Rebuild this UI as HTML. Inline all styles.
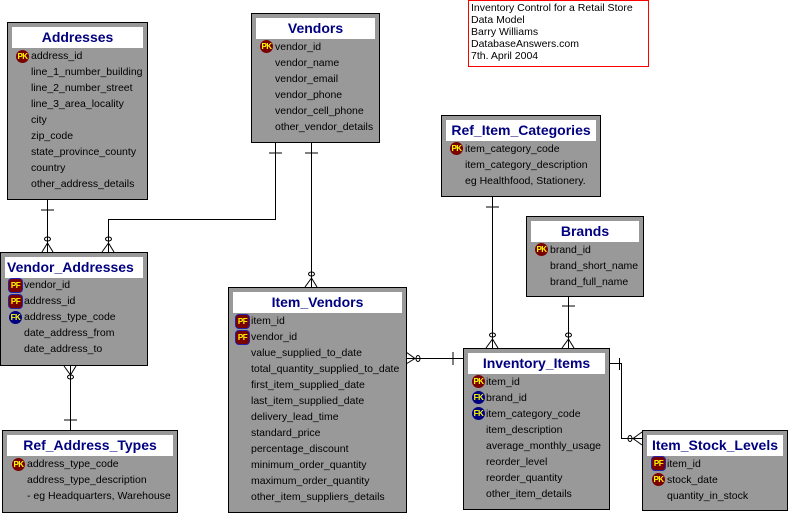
<!DOCTYPE html>
<html><head><meta charset="utf-8"><style>
body{margin:0;width:788px;height:514px;background:#fff;position:relative;overflow:hidden;font-family:"Liberation Sans",sans-serif}
.b{position:absolute;background:#999;border:1px solid #000;box-sizing:border-box}
.t{position:absolute;left:4px;right:4px;top:4px;height:21px;background:#fff;color:#000080;font-weight:bold;font-size:14px;line-height:21px;text-align:center;white-space:nowrap}
.r{position:absolute;font-size:10.5px;color:#000;white-space:nowrap;line-height:16px}
.i{position:absolute;width:13px;height:13px;border-radius:50%;background:#7a0000;color:#ff0;font-size:8px;font-weight:bold;line-height:13px;text-align:center;letter-spacing:-0.5px}
.fk{background:#000080}
.pf{border-radius:3px;box-shadow:0 0 0 1px #22a}
svg{position:absolute;left:0;top:0}
.note{position:absolute;left:468px;top:0;width:181px;height:67px;border:1px solid #f00;box-sizing:border-box;font-size:10.5px;line-height:12px;padding:1px 0 0 2px}
</style></head><body>
<svg width="788" height="514" stroke="#000" fill="none" stroke-width="1">
<path d="M47.5 199V252M41 210H54M42 252L47.5 243L53 252"/><ellipse cx="47.5" cy="239" rx="3" ry="2"/>
<path d="M275.5 142V219.5H108.5V252M269 153H282M102 252L108.5 243L114 252"/><ellipse cx="108.5" cy="239" rx="3" ry="2"/>
<path d="M311.5 142V287M305 153H318M305 287L311.5 278L317 287"/><ellipse cx="311.5" cy="274" rx="3" ry="2"/>
<path d="M70.5 365V430M64 420H77M64 366L70.5 375L76 366"/><ellipse cx="70.5" cy="377" rx="3" ry="2"/>
<path d="M406 358.5H463M406 352L415 358.5L406 364M453 352V365"/><ellipse cx="418" cy="358.5" rx="2" ry="3"/>
<path d="M492.5 196V348M486 207H499M486 348L492.5 339L498 348"/><ellipse cx="492.5" cy="335" rx="3" ry="2"/>
<path d="M568.5 296V348M562 306H575M562 348L568.5 339L574 348"/><ellipse cx="568.5" cy="335" rx="3" ry="2"/>
<path d="M609 363.5H621.5V438.5H642M619.5 358V370M642 432L633 438.5L642 445"/><ellipse cx="630" cy="438.5" rx="2" ry="3"/>
</svg>

<div class="note">Inventory Control for a Retail Store<br>Data Model<br>Barry Williams<br>DatabaseAnswers.com<br>7th. April 2004</div>

<div class="b" style="left:7px;top:22px;width:141px;height:178px"><div class="t">Addresses</div>
<div class="i" style="left:8px;top:27px">PK</div>
<div class="r" style="left:23px;top:25px">address_id<br>line_1_number_building<br>line_2_number_street<br>line_3_area_locality<br>city<br>zip_code<br>state_province_county<br>country<br>other_address_details</div></div>

<div class="b" style="left:251px;top:13px;width:129px;height:130px"><div class="t">Vendors</div>
<div class="i" style="left:8px;top:26px">PK</div>
<div class="r" style="left:23px;top:25px">vendor_id<br>vendor_name<br>vendor_email<br>vendor_phone<br>vendor_cell_phone<br>other_vendor_details</div></div>

<div class="b" style="left:0px;top:252px;width:148px;height:114px"><div class="t" style="text-align:left;padding-left:2px">Vendor_Addresses</div>
<div class="i pf" style="left:8px;top:26px">PF</div>
<div class="i pf" style="left:8px;top:42px">PF</div>
<div class="i fk" style="left:8px;top:58px">FK</div>
<div class="r" style="left:23px;top:24px">vendor_id<br>address_id<br>address_type_code<br>date_address_from<br>date_address_to</div></div>

<div class="b" style="left:2px;top:430px;width:176px;height:83px"><div class="t">Ref_Address_Types</div>
<div class="i" style="left:9px;top:27px">PK</div>
<div class="r" style="left:24px;top:25px">address_type_code<br>address_type_description<br>- eg Headquarters, Warehouse</div></div>

<div class="b" style="left:228px;top:287px;width:179px;height:226px"><div class="t">Item_Vendors</div>
<div class="i pf" style="left:7px;top:27px">PF</div>
<div class="i pf" style="left:7px;top:43px">PF</div>
<div class="r" style="left:22px;top:25px">item_id<br>vendor_id<br>value_supplied_to_date<br>total_quantity_supplied_to_date<br>first_item_supplied_date<br>last_item_supplied_date<br>delivery_lead_time<br>standard_price<br>percentage_discount<br>minimum_order_quantity<br>maximum_order_quantity<br>other_item_suppliers_details</div></div>

<div class="b" style="left:441px;top:115px;width:160px;height:82px"><div class="t">Ref_Item_Categories</div>
<div class="i" style="left:8px;top:26px">PK</div>
<div class="r" style="left:23px;top:25px">item_category_code<br>item_category_description<br>eg Healthfood, Stationery.</div></div>

<div class="b" style="left:526px;top:216px;width:118px;height:81px"><div class="t">Brands</div>
<div class="i" style="left:8px;top:26px">PK</div>
<div class="r" style="left:23px;top:25px">brand_id<br>brand_short_name<br>brand_full_name</div></div>

<div class="b" style="left:463px;top:348px;width:147px;height:162px"><div class="t">Inventory_Items</div>
<div class="i" style="left:8px;top:26px">PK</div>
<div class="i fk" style="left:8px;top:42px">FK</div>
<div class="i fk" style="left:8px;top:58px">FK</div>
<div class="r" style="left:22px;top:25px">item_id<br>brand_id<br>item_category_code<br>item_description<br>average_monthly_usage<br>reorder_level<br>reorder_quantity<br>other_item_details</div></div>

<div class="b" style="left:642px;top:430px;width:146px;height:81px"><div class="t">Item_Stock_Levels</div>
<div class="i pf" style="left:9px;top:26px">PF</div>
<div class="i" style="left:9px;top:42px">PK</div>
<div class="r" style="left:24px;top:25px">item_id<br>stock_date<br>quantity_in_stock</div></div>
</body></html>
